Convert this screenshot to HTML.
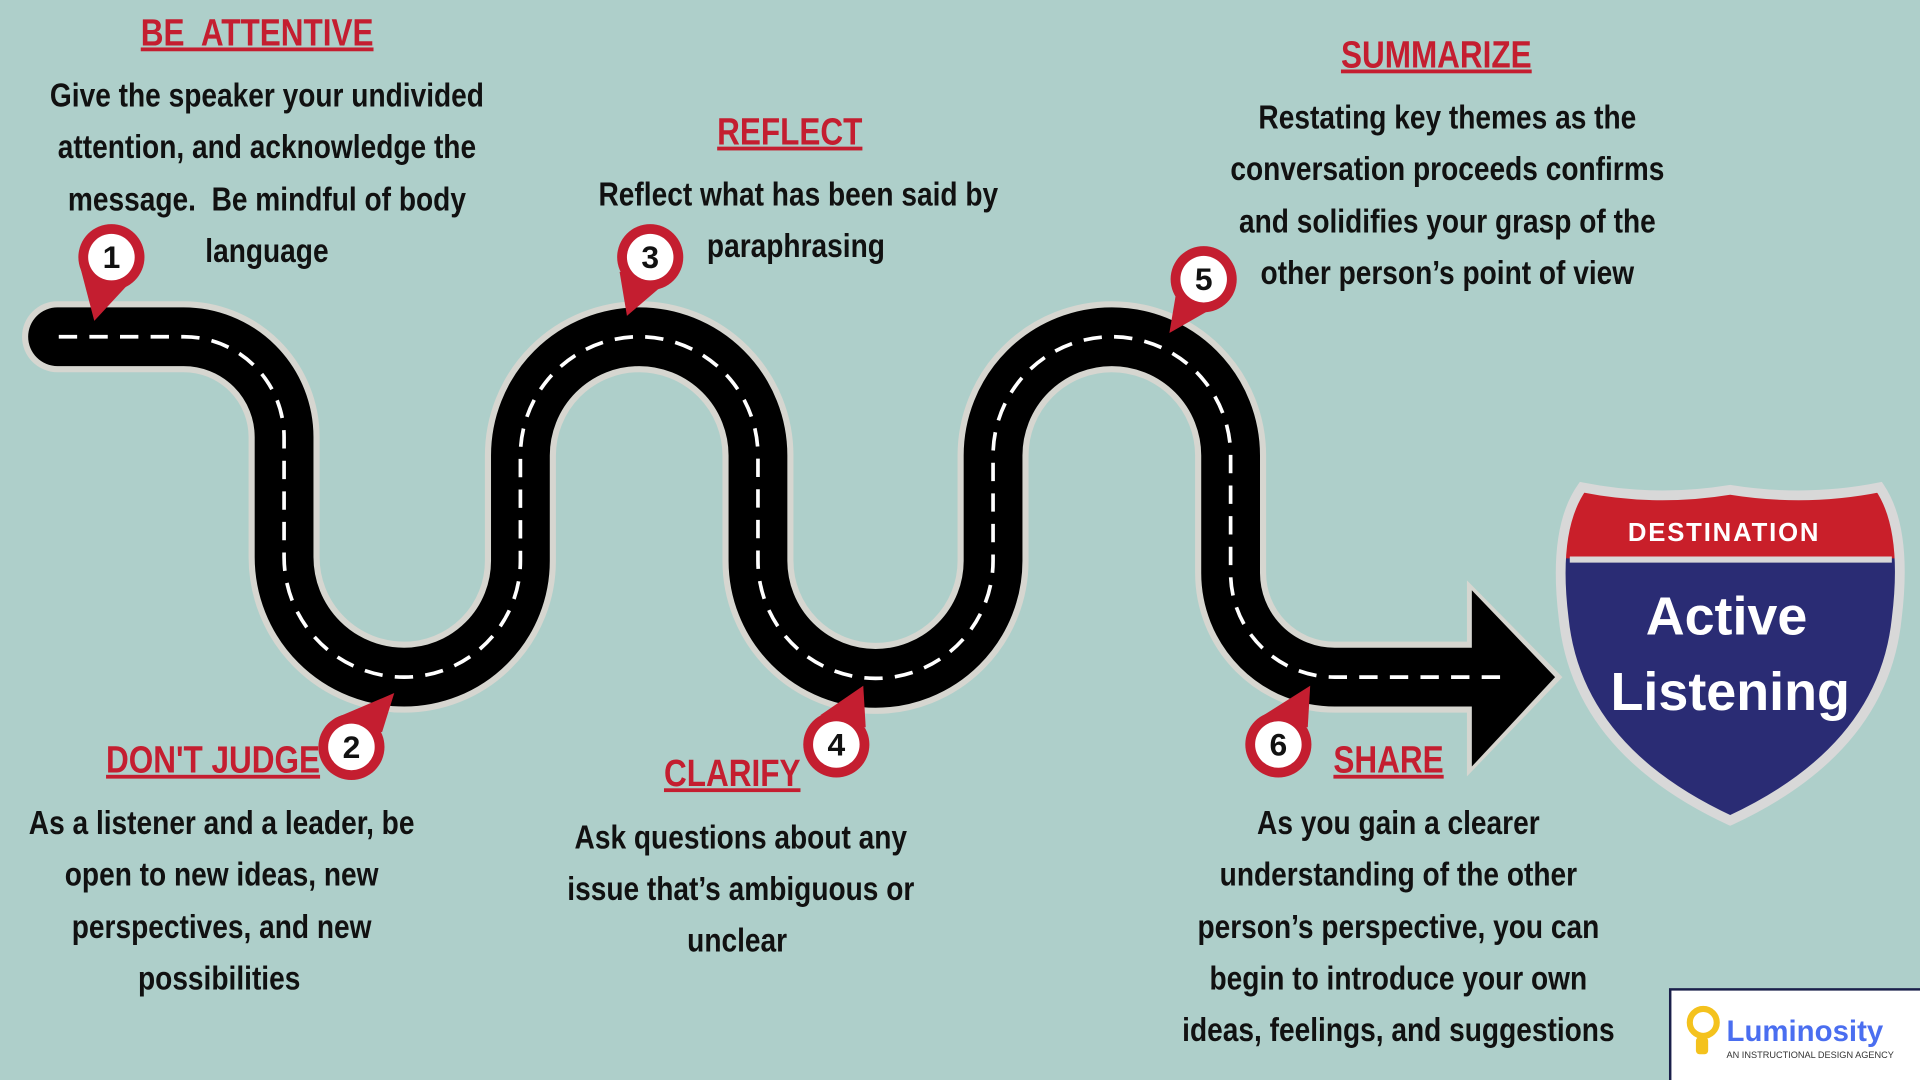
<!DOCTYPE html>
<html><head><meta charset="utf-8"><style>
html,body{margin:0;padding:0;background:#aecfca;}
svg{display:block}
.t{font-family:"Liberation Sans Narrow","Liberation Sans",sans-serif;font-weight:bold;fill:#c41e30;font-size:31px;text-anchor:middle;text-decoration:underline;}
.b{font-family:"Liberation Sans Narrow","Liberation Sans",sans-serif;font-weight:bold;fill:#111;font-size:27px;text-anchor:middle;}
.n{font-family:"Liberation Sans",sans-serif;font-weight:900;fill:#111;font-size:26px;text-anchor:middle;}
</style></head><body>
<svg width="1920" height="1080" viewBox="0 0 1568 882" xmlns="http://www.w3.org/2000/svg">
<rect width="1568" height="882" fill="#aecfca"/>
<!-- road -->
<path d="M47,275 H150 A82,82 0 0 1 232,357 V455 A98,98 0 0 0 330,553 A95,95 0 0 0 425,458 V372 A97,97 0 0 1 522,275 A97,97 0 0 1 619,372 V458 A96,96 0 0 0 715,554 A96,96 0 0 0 811,458 V372 A97,97 0 0 1 908,275 A97,97 0 0 1 1005,372 V468 A85,85 0 0 0 1090,553 H1210" fill="none" stroke="#d6d6d0" stroke-width="58" stroke-linecap="round"/>
<polygon points="1198,474 1276,553 1198,634" fill="#d6d6d0"/>
<path d="M47,275 H150 A82,82 0 0 1 232,357 V455 A98,98 0 0 0 330,553 A95,95 0 0 0 425,458 V372 A97,97 0 0 1 522,275 A97,97 0 0 1 619,372 V458 A96,96 0 0 0 715,554 A96,96 0 0 0 811,458 V372 A97,97 0 0 1 908,275 A97,97 0 0 1 1005,372 V468 A85,85 0 0 0 1090,553 H1210" fill="none" stroke="#000" stroke-width="48" stroke-linecap="round"/>
<polygon points="1202,482 1270,553 1202,626" fill="#000"/>
<path d="M48,275 H150 A82,82 0 0 1 232,357 V455 A98,98 0 0 0 330,553 A95,95 0 0 0 425,458 V372 A97,97 0 0 1 522,275 A97,97 0 0 1 619,372 V458 A96,96 0 0 0 715,554 A96,96 0 0 0 811,458 V372 A97,97 0 0 1 908,275 A97,97 0 0 1 1005,372 V468 A85,85 0 0 0 1090,553 H1230" fill="none" stroke="#fff" stroke-width="3" stroke-dasharray="15 10"/>
<!-- pins -->
<g fill="#c41e30">
<circle cx="91" cy="210" r="27"/><polygon points="66,220 116,220 77,262"/>
<circle cx="531" cy="210" r="27"/><polygon points="506,222 554,222 512,258"/>
<circle cx="983" cy="228" r="27"/><polygon points="960,242 1004,244 955,272"/>
<circle cx="287" cy="610" r="27"/><polygon points="275,586 312,598 322,566"/>
<circle cx="683" cy="608" r="27"/><polygon points="670,584 707,594 705,560"/>
<circle cx="1044" cy="608" r="27"/><polygon points="1032,584 1068,594 1070,560"/>
</g>
<g fill="#fff">
<circle cx="91" cy="210" r="19"/><circle cx="531" cy="210" r="19"/><circle cx="983" cy="228" r="19"/>
<circle cx="287" cy="610" r="19"/><circle cx="683" cy="608" r="19"/><circle cx="1044" cy="608" r="19"/>
</g>
<text class="n" x="91" y="219">1</text><text class="n" x="531" y="219">3</text><text class="n" x="983" y="237">5</text>
<text class="n" x="287" y="619">2</text><text class="n" x="683" y="617">4</text><text class="n" x="1044" y="617">6</text>
<!-- sign -->
<path d="M1292,398 Q1352,410 1413,400 Q1475,410 1535,398 Q1558,432 1549,505 Q1538,612 1413,670 Q1288,612 1277,505 Q1268,432 1292,398 Z" fill="#2a2c74"/>
<clipPath id="c"><rect x="1250" y="380" width="320" height="76"/></clipPath>
<path clip-path="url(#c)" d="M1292,398 Q1352,410 1413,400 Q1475,410 1535,398 Q1558,432 1549,505 Q1538,612 1413,670 Q1288,612 1277,505 Q1268,432 1292,398 Z" fill="#c91f2a"/>
<path d="M1292,398 Q1352,410 1413,400 Q1475,410 1535,398 Q1558,432 1549,505 Q1538,612 1413,670 Q1288,612 1277,505 Q1268,432 1292,398 Z" fill="none" stroke="#d8d8d8" stroke-width="8"/>
<line x1="1282" y1="457" x2="1545" y2="457" stroke="#d8d8d8" stroke-width="5"/>
<text x="1408" y="442" fill="#fff" font-family="Liberation Sans,sans-serif" font-weight="bold" font-size="21" text-anchor="middle" letter-spacing="1.5">DESTINATION</text>
<text x="1410" y="518" fill="#fff" font-family="Liberation Sans,sans-serif" font-weight="bold" font-size="44" text-anchor="middle">Active</text>
<text x="1413" y="580" fill="#fff" font-family="Liberation Sans,sans-serif" font-weight="bold" font-size="44" text-anchor="middle">Listening</text>
<!-- logo -->
<rect x="1364" y="808" width="205" height="76" fill="#fff" stroke="#1a1f4a" stroke-width="2"/>
<circle cx="1391" cy="835" r="11" fill="none" stroke="#f4c21d" stroke-width="5"/>
<rect x="1385" y="847" width="10" height="14" rx="3" fill="#f4c21d"/>
<text x="1410" y="850" fill="#4a6ef0" font-family="Liberation Sans,sans-serif" font-weight="bold" font-size="24">Luminosity</text>
<text x="1410" y="864" fill="#333" font-family="Liberation Sans,sans-serif" font-size="7.5">AN INSTRUCTIONAL DESIGN AGENCY</text>
<!-- texts -->
<text class="t" x="210" y="37" transform="matrix(0.83 0 0 1 35.7 0)">BE&#160; ATTENTIVE</text>
<text class="b" x="218" y="87" transform="matrix(0.85 0 0 1 32.7 0)">Give the speaker your undivided</text>
<text class="b" x="218" y="129" transform="matrix(0.85 0 0 1 32.7 0)">attention, and acknowledge the</text>
<text class="b" x="218" y="172" transform="matrix(0.85 0 0 1 32.7 0)">message.&#160; Be mindful of body</text>
<text class="b" x="218" y="214" transform="matrix(0.85 0 0 1 32.7 0)">language</text>
<text class="t" x="645" y="118" transform="matrix(0.83 0 0 1 109.65 0)">REFLECT</text>
<text class="b" x="652" y="168" transform="matrix(0.85 0 0 1 97.8 0)">Reflect what has been said by</text>
<text class="b" x="650" y="210" transform="matrix(0.85 0 0 1 97.5 0)">paraphrasing</text>
<text class="t" x="1173" y="55" transform="matrix(0.83 0 0 1 199.41 0)">SUMMARIZE</text>
<text class="b" x="1182" y="105" transform="matrix(0.85 0 0 1 177.3 0)">Restating key themes as the</text>
<text class="b" x="1182" y="147" transform="matrix(0.85 0 0 1 177.3 0)">conversation proceeds confirms</text>
<text class="b" x="1182" y="190" transform="matrix(0.85 0 0 1 177.3 0)">and solidifies your grasp of the</text>
<text class="b" x="1182" y="232" transform="matrix(0.85 0 0 1 177.3 0)">other person’s point of view</text>
<text class="t" x="174" y="631" transform="matrix(0.83 0 0 1 29.58 0)">DON'T JUDGE</text>
<text class="b" x="181" y="681" transform="matrix(0.85 0 0 1 27.15 0)">As a listener and a leader, be</text>
<text class="b" x="181" y="723" transform="matrix(0.85 0 0 1 27.15 0)">open to new ideas, new</text>
<text class="b" x="181" y="766" transform="matrix(0.85 0 0 1 27.15 0)">perspectives, and new</text>
<text class="b" x="179" y="808" transform="matrix(0.85 0 0 1 26.85 0)">possibilities</text>
<text class="t" x="598" y="642" transform="matrix(0.83 0 0 1 101.66 0)">CLARIFY</text>
<text class="b" x="605" y="693" transform="matrix(0.85 0 0 1 90.75 0)">Ask questions about any</text>
<text class="b" x="605" y="735" transform="matrix(0.85 0 0 1 90.75 0)">issue that’s ambiguous or</text>
<text class="b" x="602" y="777" transform="matrix(0.85 0 0 1 90.3 0)">unclear</text>
<text class="t" x="1134" y="631" transform="matrix(0.83 0 0 1 192.78 0)">SHARE</text>
<text class="b" x="1142" y="681" transform="matrix(0.85 0 0 1 171.3 0)">As you gain a clearer</text>
<text class="b" x="1142" y="723" transform="matrix(0.85 0 0 1 171.3 0)">understanding of the other</text>
<text class="b" x="1142" y="766" transform="matrix(0.85 0 0 1 171.3 0)">person’s perspective, you can</text>
<text class="b" x="1142" y="808" transform="matrix(0.85 0 0 1 171.3 0)">begin to introduce your own</text>
<text class="b" x="1142" y="850" transform="matrix(0.85 0 0 1 171.3 0)">ideas, feelings, and suggestions</text>
</svg>
</body></html>
